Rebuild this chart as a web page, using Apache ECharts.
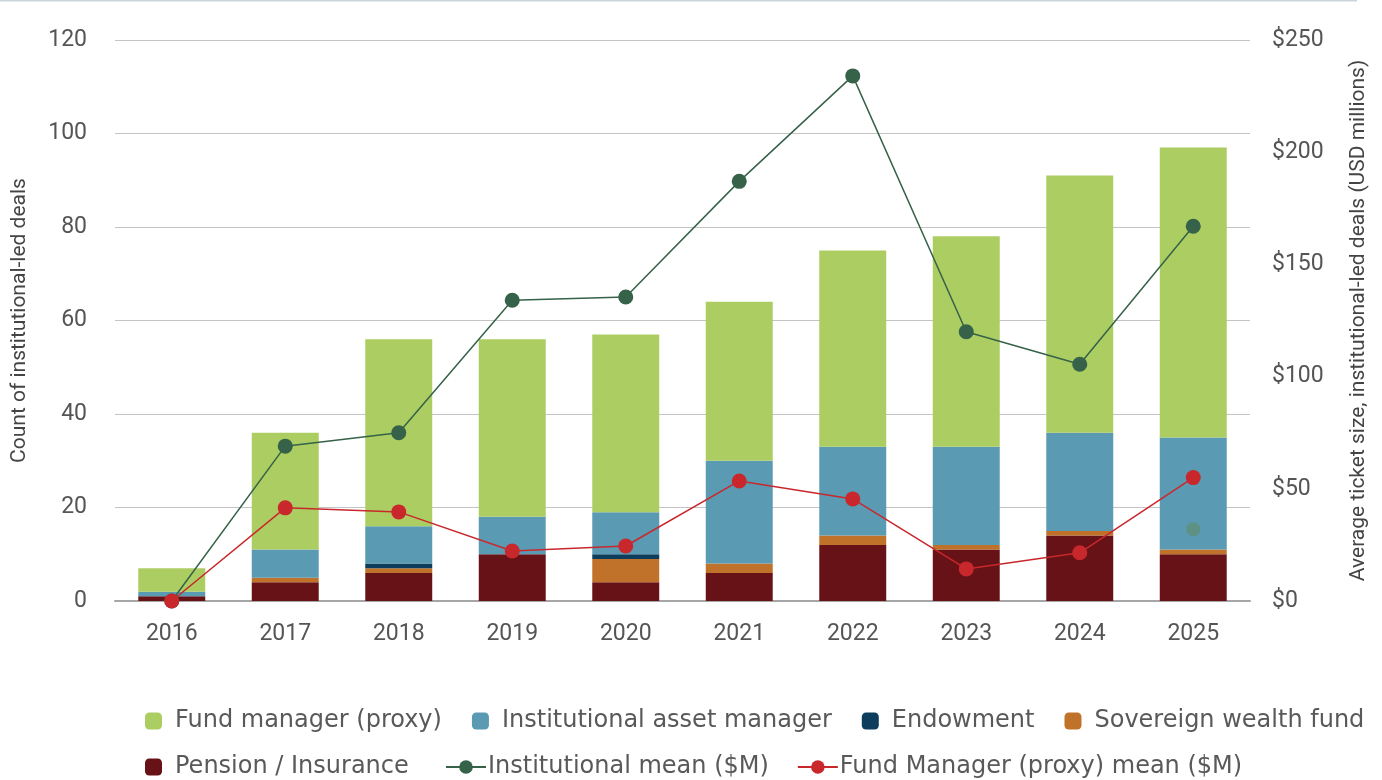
<!DOCTYPE html>
<html>
<head>
<meta charset="utf-8">
<script src="https://cdn.jsdelivr.net/npm/echarts@6/dist/echarts.min.js"></script>
<style>
html,body{margin:0;padding:0;background:#fff;}
#c{width:1382px;height:780px;}
</style>
</head>
<body>
<div id="c"></div>
<script>
const years = ['2016','2017','2018','2019','2020','2021','2022','2023','2024','2025'];
const pension = [1,4,6,10,4,6,12,11,14,10];
const sovereign = [0,1,1,0,5,2,2,1,1,1];
const endowment = [0,0,1,0,1,0,0,0,0,0];
const instAssetMgr = [1,6,8,8,9,22,19,21,21,24];
const fundMgr = [5,25,40,38,38,34,42,45,55,62];
const instMean = [0,69,75,134,135.5,187,234,120,105.5,167];
const fmMean = [0,41.5,39.7,22.3,24.5,53.5,45.5,14.3,21.5,55];
const extraPoint = [null,null,null,null,null,null,null,null,null,32];
const leftTicks = [0,20,40,60,80,100,120];
const rightTicks = [0,50,100,150,200,250];

const tickFont = '"Roboto", sans-serif';
const legFont = '"DejaVu Sans", "Open Sans", sans-serif';
const legText = {fontFamily:legFont, fontSize:24, color:'#595959', padding:[0,0,0,8]};
const legText2 = {fontFamily:legFont, fontSize:24, color:'#595959', padding:[0,0,0,-3]};

const chart = echarts.init(document.getElementById('c'));
function bar(name, data, color){
  return {name, type:'bar', stack:'deals', data, barWidth:'59%',
    itemStyle:{color}, emphasis:{disabled:true}};
}
chart.setOption({
  animation:false,
  grid:{left:115,right:132,top:40,bottom:179,containLabel:false,outerBoundsMode:'none'},
  graphic:[{type:'rect',shape:{x:0,y:0,width:1357,height:1.5},style:{fill:'#c9d6dc'}}],
  legend:[
    {data:['Fund manager (proxy)','Institutional asset manager','Endowment','Sovereign wealth fund'],
     left:140, top:704, itemWidth:17, itemHeight:17, itemGap:30, textStyle:legText},
    {data:['Pension / Insurance'],
     left:140, top:750, itemWidth:17, itemHeight:17, itemGap:30, textStyle:legText},
    {data:['Institutional mean ($M)','Fund Manager (proxy) mean ($M)'],
     left:440, top:750, itemWidth:40, itemHeight:17, itemGap:28, textStyle:legText2}
  ],
  xAxis:{type:'category', data:years,
    axisLine:{lineStyle:{color:'#a6a6a6',width:2}}, axisTick:{show:false},
    axisLabel:{fontFamily:tickFont, fontSize:23, color:'#555', margin:22}},
  yAxis:[
    {type:'value', min:0, max:120, interval:20,
     name:'Count of institutional-led deals', nameLocation:'middle', nameRotate:90, nameGap:85,
     nameTextStyle:{fontFamily:tickFont, fontSize:21, color:'#444'},
     axisLabel:{fontFamily:tickFont, fontSize:23, color:'#555', margin:28},
     splitLine:{lineStyle:{color:'#c4c4c4',width:1.2}}, axisLine:{show:false}, axisTick:{show:false}},
    {type:'value', min:0, max:250, interval:50,
     name:'Average ticket size, institutional-led deals (USD millions)', nameLocation:'middle', nameRotate:90, nameGap:98,
     nameTextStyle:{fontFamily:tickFont, fontSize:21, color:'#444'},
     axisLabel:{fontFamily:tickFont, fontSize:23, color:'#555', margin:22, formatter:v=>'$'+v},
     splitLine:{show:false}, axisLine:{show:false}, axisTick:{show:false}}
  ],
  series:[
    bar('Pension / Insurance', pension, '#661216'),
    bar('Sovereign wealth fund', sovereign, '#c0722b'),
    bar('Endowment', endowment, '#0d3d5c'),
    bar('Institutional asset manager', instAssetMgr, '#5a9bb3'),
    bar('Fund manager (proxy)', fundMgr, '#accd62'),
    {name:'Institutional mean ($M)', type:'line', yAxisIndex:1, data:instMean,
     symbol:'circle', symbolSize:15, itemStyle:{color:'#356248'}, lineStyle:{color:'#356248',width:1.5}},
    {name:'Fund Manager (proxy) mean ($M)', type:'line', yAxisIndex:1, data:fmMean,
     symbol:'circle', symbolSize:15, itemStyle:{color:'#c8282c'}, lineStyle:{color:'#c8282c',width:1.5}},
    {name:'extra', type:'scatter', yAxisIndex:1, data:extraPoint, symbolSize:14,
     itemStyle:{color:'#5e8f78', opacity:0.8}}
  ]
});
</script>
</body>
</html>
